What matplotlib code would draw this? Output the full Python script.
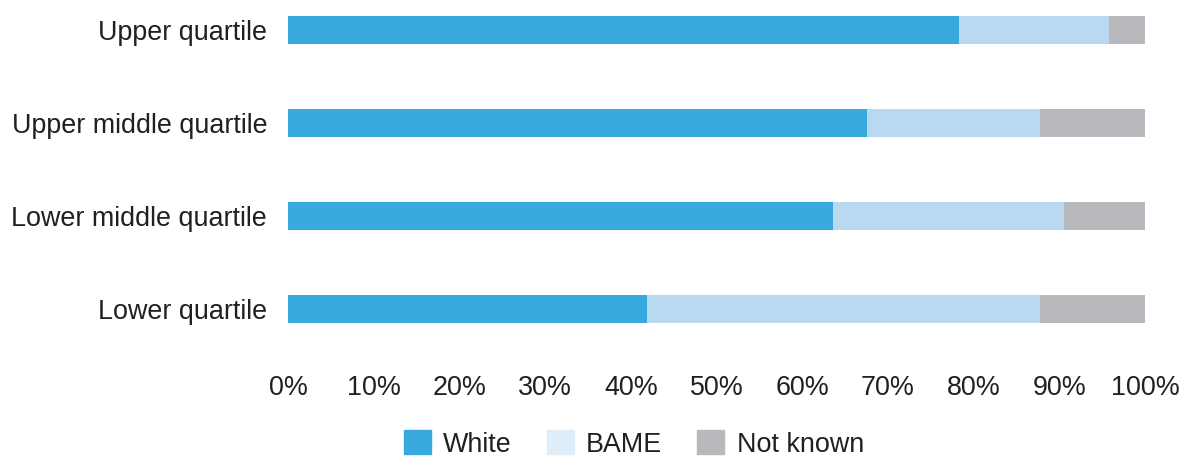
import matplotlib
matplotlib.use("Agg")
import matplotlib.pyplot as plt
from matplotlib.patches import Patch

plt.rcParams['font.family'] = ['Liberation Sans', 'DejaVu Sans']

categories = ["Lower quartile", "Lower middle quartile", "Upper middle quartile", "Upper quartile"]
white = [41.9, 63.6, 67.6, 78.3]
bame = [45.8, 27.0, 20.1, 17.5]
not_known = [12.3, 9.4, 12.3, 4.2]
xticks = [0, 10, 20, 30, 40, 50, 60, 70, 80, 90, 100]

c_white = "#38A9DF"
c_bame = "#B9D9F1"
c_bame_legend = "#E0EEF9"
c_nk = "#B8B9BD"
txt = "#231F20"
fs = 19.4

fig = plt.figure(figsize=(11.84, 4.58), dpi=100)
ax = fig.add_axes([288/1184, 118/458, (1145-288)/1184, 340/458])

y = list(range(len(categories)))
left3 = [a + b for a, b in zip(white, bame)]
ax.barh(y, white, height=0.3, color=c_white)
ax.barh(y, bame, left=white, height=0.3, color=c_bame)
ax.barh(y, not_known, left=left3, height=0.3, color=c_nk)

ax.set_xlim(0, 100)
ax.set_ylim(-0.333, 3.323)
ax.set_yticks(y)
ax.set_yticklabels(categories, fontsize=fs, color=txt)
ax.set_xticks(xticks)
ax.set_xticklabels([f"{t}%" for t in xticks], fontsize=fs, color=txt)
ax.tick_params(axis="y", length=0, pad=15)
ax.tick_params(axis="x", length=0, pad=25)
for s in ax.spines.values():
    s.set_visible(False)

handles = [Patch(color=c_white, label="White"),
           Patch(color=c_bame_legend, label="BAME"),
           Patch(color=c_nk, label="Not known")]
fig.legend(handles=handles, loc="center", bbox_to_anchor=(634/1184, 14/458), ncol=3,
           frameon=False, fontsize=fs, handlelength=1.0, handleheight=1.0,
           handletextpad=0.45, columnspacing=1.3, labelcolor=txt)

fig.savefig("out.png", dpi=100)
